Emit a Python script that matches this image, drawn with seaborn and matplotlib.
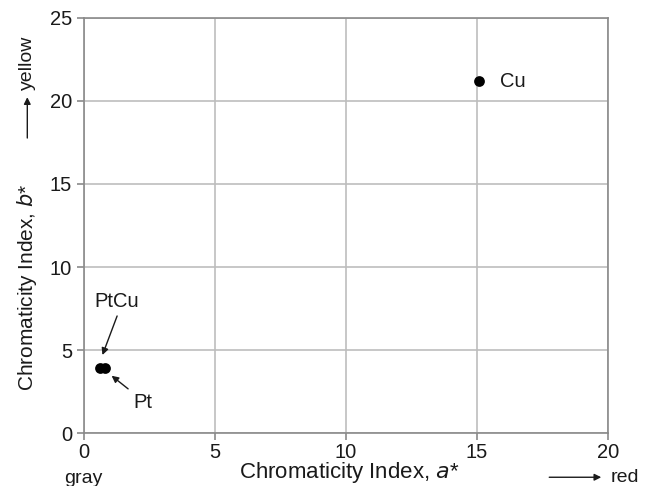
import matplotlib
matplotlib.use("Agg")
import matplotlib.pyplot as plt
import seaborn as sns
import pandas as pd

# values
names = ["Cu", "PtCu", "Pt"]
a_star = [15.1, 0.8, 0.6]
b_star = [21.2, 3.9, 3.9]

df = pd.DataFrame({"name": names, "a": a_star, "b": b_star})

sns.set_style("white")
plt.rcParams["font.family"] = ["Liberation Sans", "DejaVu Sans"]

fig = plt.figure(figsize=(6.5, 4.86), dpi=100)
ax = fig.add_axes([0.129, 0.109, 0.806, 0.854])

sns.scatterplot(data=df, x="a", y="b", ax=ax, color="black", s=60,
                edgecolor="black", linewidth=0, zorder=3, legend=False)

ax.set_xlim(0, 20)
ax.set_ylim(0, 25)
ax.set_xticks([0, 5, 10, 15, 20])
ax.set_yticks([0, 5, 10, 15, 20, 25])
ax.grid(True, color="#bdbdbd", linewidth=1.2)
for s in ax.spines.values():
    s.set_color("#8a8a8a")
    s.set_linewidth(1.2)
ax.tick_params(axis="both", labelsize=14.5, colors="#8a8a8a", labelcolor="#1a1a1a",
               length=5, width=1.2, direction="out", left=True, bottom=True)
ax.tick_params(axis="x", pad=2)
ax.set_xlabel("")
ax.set_ylabel("")

txt = "#1a1a1a"
fig.text(0.537, 0.027, "Chromaticity Index, $a$*", ha="center", va="center",
         fontsize=16, color=txt)
fig.text(0.042, 0.41, "Chromaticity Index, $b$*", ha="center", va="center",
         rotation=90, fontsize=15, color=txt)
fig.text(0.128, 0.016, "gray", ha="center", va="center", fontsize=14, color=txt)
fig.text(0.961, 0.018, "red", ha="center", va="center", fontsize=14, color=txt)
fig.text(0.042, 0.87, "yellow", ha="center", va="center", rotation=90,
         fontsize=14, color=txt)

# direction arrows outside the axes
ax.annotate("", xy=(0.925, 0.018), xytext=(0.845, 0.018), xycoords="figure fraction",
            arrowprops=dict(arrowstyle="-|>", color=txt, lw=1, mutation_scale=10,
                            shrinkA=0, shrinkB=0))
ax.annotate("", xy=(0.042, 0.80), xytext=(0.042, 0.716), xycoords="figure fraction",
            arrowprops=dict(arrowstyle="-|>", color=txt, lw=1, mutation_scale=10,
                            shrinkA=0, shrinkB=0))

ax.text(15.88, 21.2, "Cu", fontsize=14.5, va="center", ha="left", color=txt)

ax.text(1.26, 7.9, "PtCu", fontsize=14.5, ha="center", va="center", color=txt)
ax.annotate("", xy=(0.71, 4.7), xytext=(1.27, 7.05),
            arrowprops=dict(arrowstyle="-|>", color=txt, lw=1,
                            mutation_scale=10, shrinkA=0, shrinkB=0))
ax.text(2.26, 1.86, "Pt", fontsize=14.5, ha="center", va="center", color=txt)
ax.annotate("", xy=(1.06, 3.45), xytext=(1.69, 2.66),
            arrowprops=dict(arrowstyle="-|>", color=txt, lw=1,
                            mutation_scale=10, shrinkA=0, shrinkB=0))

fig.savefig("out.png", dpi=100)
